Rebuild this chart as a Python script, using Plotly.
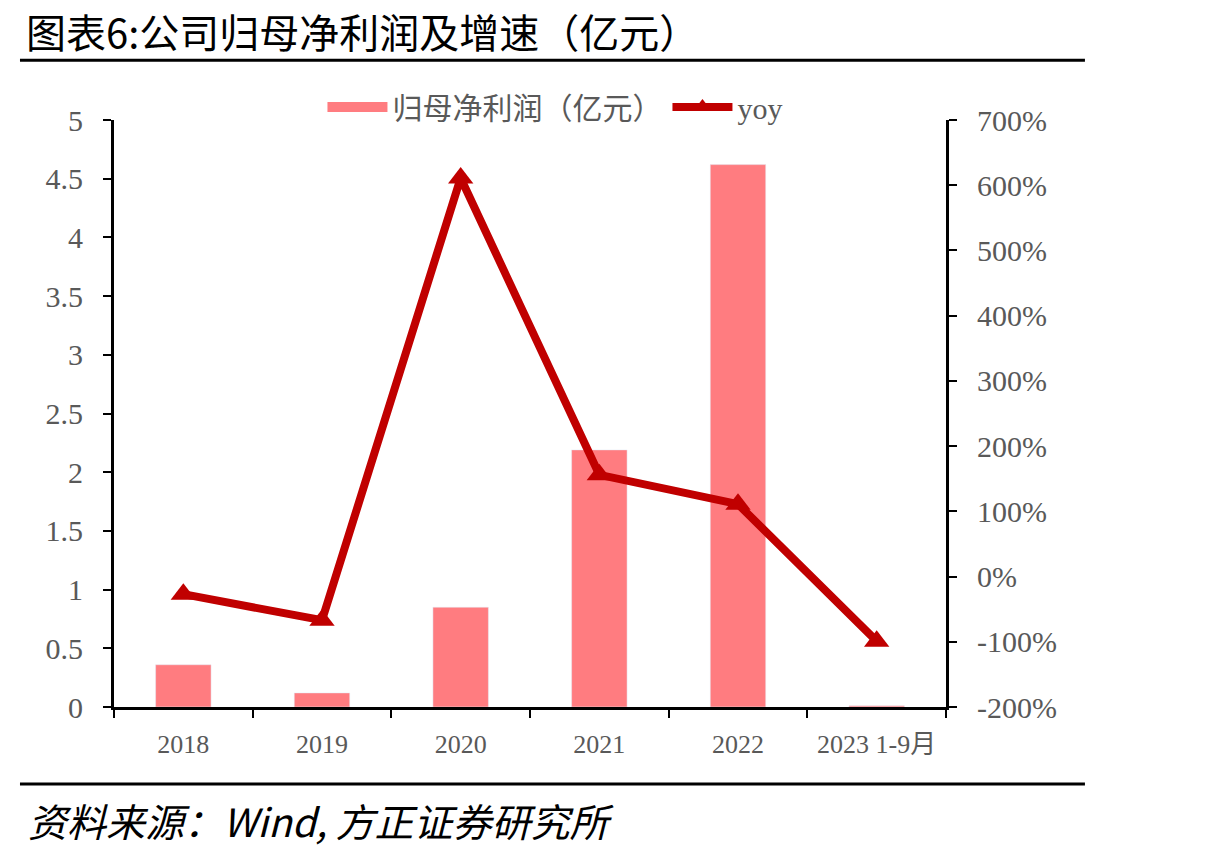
import plotly.graph_objects as go

categories = ["2018", "2019", "2020", "2021", "2022", "2023 1-9月"]
profit = [0.36, 0.12, 0.85, 2.19, 4.62, 0.01]
yoy = [-27, -67, 611, 156, 111, -99]

y2_tickvals = [-200, -100, 0, 100, 200, 300, 400, 500, 600, 700]
y2_ticktext = ["-200%", "-100%", "0%", "100%", "200%", "300%", "400%", "500%", "600%", "700%"]

bar_name = "归母净利润（亿元）"
line_name = "yoy"
title_text = "图表6:公司归母净利润及增速（亿元）"
source_text = "资料来源：Wind, 方正证券研究所"

serif = "Liberation Serif, Times New Roman, serif"
cjk = "Noto Sans CJK SC"
grey = "#595959"
bar_color = "#FF7C80"
line_color = "#C00000"

fig = go.Figure()
fig.add_trace(go.Bar(x=categories, y=profit, name=bar_name, marker_color=bar_color,
                     width=0.4, yaxis="y", showlegend=False, legendgroup="bar"))
# legend entry for the bar series (wide rectangle swatch)
fig.add_trace(go.Scatter(x=[None], y=[None], name=bar_name, mode="lines",
                         line=dict(color=bar_color, width=17), legendgroup="bar"))
fig.add_trace(go.Scatter(x=categories, y=yoy, name=line_name, yaxis="y2",
                         mode="lines+markers",
                         line=dict(color=line_color, width=8),
                         marker=dict(symbol="triangle-up", size=22, color=line_color)))

fig.update_layout(
    width=1223, height=854,
    margin=dict(l=114, r=277, t=120, b=147),
    paper_bgcolor="white", plot_bgcolor="white",
    font=dict(family=serif, color=grey),
    xaxis=dict(type="category", showline=True, linecolor="black", linewidth=3,
               ticks="outside", tickson="boundaries", ticklen=8, tickwidth=2,
               tickcolor="black", ticklabelstandoff=12,
               tickfont=dict(size=26, family=serif + ", " + cjk, color=grey),
               showgrid=False, zeroline=False),
    yaxis=dict(range=[0, 5], dtick=0.5, showline=True, linecolor="black", linewidth=3,
               ticks="outside", ticklen=8, tickwidth=2, tickcolor="black",
               ticklabelstandoff=14,
               tickfont=dict(size=30, color=grey), showgrid=False, zeroline=False),
    yaxis2=dict(range=[-200, 700], tickvals=y2_tickvals, ticktext=y2_ticktext,
                overlaying="y", side="right",
                showline=True, linecolor="black", linewidth=3,
                ticks="outside", ticklen=8, tickwidth=2, tickcolor="black",
                ticklabelstandoff=14,
                tickfont=dict(size=30, color=grey), showgrid=False, zeroline=False),
    legend=dict(orientation="h", x=0.53, y=1.022, xanchor="center", yanchor="middle",
                font=dict(size=30, family=serif + ", " + cjk, color=grey),
                bgcolor="rgba(0,0,0,0)", itemwidth=60, tracegroupgap=30),
    shapes=[
        dict(type="line", xref="paper", yref="paper", x0=-0.113, x1=1.167, y0=1.102, y1=1.102,
             line=dict(color="black", width=3)),
        dict(type="line", xref="paper", yref="paper", x0=-0.113, x1=1.167, y0=-0.131, y1=-0.131,
             line=dict(color="black", width=3)),
    ],
    annotations=[
        dict(text=title_text, xref="paper", yref="paper", x=-0.108, y=1.151,
             xanchor="left", yanchor="middle", showarrow=False,
             font=dict(family=cjk, size=40, color="black")),
        dict(text="<i>" + source_text + "</i>", xref="paper", yref="paper", x=-0.106, y=-0.192,
             xanchor="left", yanchor="middle", showarrow=False,
             font=dict(family=cjk, size=39, color="black")),
    ],
)

fig.write_html("out.html")
